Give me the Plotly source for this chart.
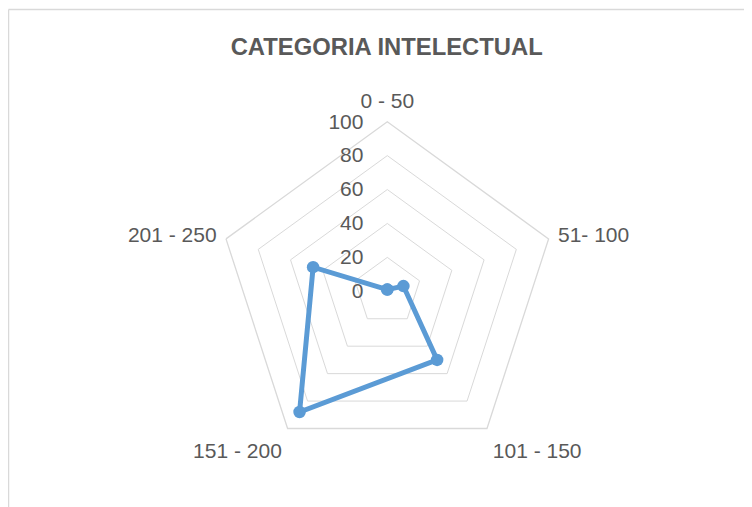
import plotly.graph_objects as go

categories = ["0 - 50", "51- 100", "101 - 150", "151 - 200", "201 - 250"]
values = [1, 10, 50, 88, 46]
tick_vals = [0, 20, 40, 60, 80, 100]
title_text = "CATEGORIA INTELECTUAL"

# page body adds an 8px margin; work in figure coords
OFF = 8
W, H = 752 - OFF, 507 - OFF
cx, cy, R = 387.3 - OFF, 291.3 - OFF, 169.6

fig = go.Figure()
fig.add_trace(go.Scatterpolar(
    r=values + values[:1],
    theta=categories + categories[:1],
    mode="lines+markers",
    line=dict(color="#5b9bd5", width=5),
    marker=dict(color="#5b9bd5", size=12.5),
    cliponaxis=False,
    hoverinfo="r+theta",
    showlegend=False,
))

FONT = "Liberation Sans, Arial, sans-serif"
fig.update_layout(
    width=W, height=H,
    margin=dict(l=0, r=0, t=0, b=0),
    paper_bgcolor="white",
    plot_bgcolor="white",
    font=dict(family=FONT, color="#595959"),
    title=dict(text="<b>" + title_text + "</b>", x=(386.7 - OFF) / W, y=1 - (47 - OFF) / H,
               xanchor="center", yanchor="middle",
               font=dict(size=23.8, color="#595959", family=FONT)),
    polar=dict(
        domain=dict(x=[(cx - R) / W, (cx + R) / W], y=[1 - (cy + R) / H, 1 - (cy - R) / H]),
        bgcolor="white",
        gridshape="linear",
        radialaxis=dict(
            range=[0, 100], tickvals=tick_vals, showline=False,
            angle=90, side="counterclockwise", tickangle=90,
            gridcolor="#d9d9d9", gridwidth=1.3,
            tickfont=dict(size=21, color="#595959"),
            ticks="outside", ticklen=16, tickcolor="rgba(0,0,0,0)",
        ),
        angularaxis=dict(
            rotation=90, direction="clockwise",
            showgrid=False, showline=True, linecolor="#d9d9d9", linewidth=1.3,
            tickfont=dict(size=21, color="#595959"),
            ticks="outside", ticklen=5, tickcolor="rgba(0,0,0,0)",
        ),
    ),
    shapes=[
        dict(type="line", xref="paper", yref="paper", x0=(8.5 - OFF) / W, x1=1,
             y0=1 - (9.5 - OFF) / H, y1=1 - (9.5 - OFF) / H,
             line=dict(color="#d9d9d9", width=1.5)),
        dict(type="line", xref="paper", yref="paper", x0=(8.5 - OFF) / W, x1=(8.5 - OFF) / W,
             y0=0, y1=1 - (9.5 - OFF) / H,
             line=dict(color="#d9d9d9", width=1.5)),
    ],
)

fig.write_html("out.html")
